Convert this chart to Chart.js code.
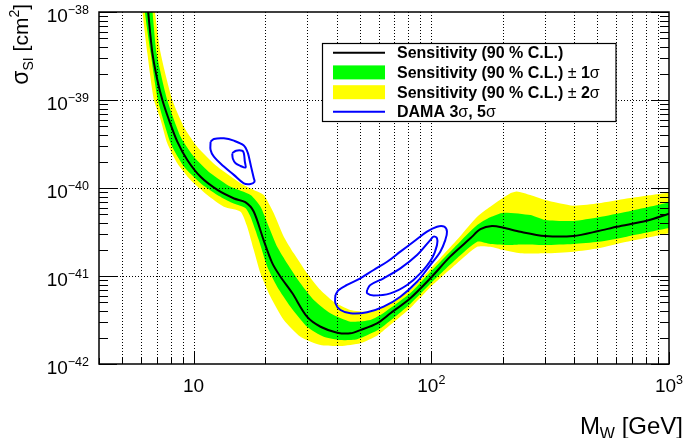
<!DOCTYPE html>
<html>
<head>
<meta charset="utf-8">
<script src="https://cdn.jsdelivr.net/npm/chart.js@4.4.1/dist/chart.umd.min.js"></script>
<style>
body { margin: 0; background: #fff; }
#wrap { width: 685px; height: 438px; position: relative; }
</style>
</head>
<body>
<div id="wrap"><canvas id="chart"></canvas></div>
<script>
// expected sensitivity (90% C.L.), mass in GeV, cross section in cm2
var sensMass = [6.2, 6.43, 6.71, 7.04, 7.39, 7.88, 8.54, 9.41, 10.7, 12.6, 14.8, 16.5, 17.9, 19.7, 21.4, 23.2, 26.0, 30.0, 34.2, 40.2, 45.7, 50.3, 59.1, 67.3, 81.6, 99, 120, 146, 161, 180, 201, 237, 301, 396, 505, 603, 806, 1000];
var sensXsec = [3e-38, 1.05e-38, 3.4e-39, 1.69e-39, 1.0e-39, 5.93e-40, 3.36e-40, 2.08e-40, 1.34e-40, 9.5e-41, 7.6e-41, 6.9e-41, 5.4e-41, 2.56e-41, 1.41e-41, 9.8e-42, 6.4e-42, 3.45e-42, 2.65e-42, 2.27e-42, 2.23e-42, 2.43e-42, 2.9e-42, 3.77e-42, 5.6e-42, 9.4e-42, 1.66e-41, 2.68e-41, 3.4e-41, 3.7e-41, 3.54e-41, 3.18e-41, 2.85e-41, 2.85e-41, 3.24e-41, 3.63e-41, 4.25e-41, 5.1e-41];

// +-1 sigma band edges
var sig1UpMass = [5.8, 6.71, 6.99, 7.75, 8.82, 10.03, 11.79, 14.31, 17.36, 19.12, 20.72, 22.47, 24.76, 28.15, 32.03, 37.63, 45.7, 55.4, 63, 81.6, 99.5, 128, 156, 177, 201, 261, 301, 396, 505, 664, 990, 1100];
var sig1UpXsec = [1e-36, 1.05e-38, 3.4e-39, 1.0e-39, 3.83e-40, 2.27e-40, 1.47e-40, 1.03e-40, 8.32e-41, 6.12e-41, 3.63e-41, 2.15e-41, 1.39e-41, 8.26e-42, 5.33e-42, 3.77e-42, 3.03e-42, 3.16e-42, 3.8e-42, 6.4e-42, 1.12e-41, 2.25e-41, 3.8e-41, 4.65e-41, 5.24e-41, 4.93e-41, 4.33e-41, 4.22e-41, 4.65e-41, 5.38e-41, 6.81e-41, 7.2e-41];
var sig1LoMass = [5.5, 6.23, 6.60, 7.08, 8.01, 9.10, 10.7, 12.58, 14.31, 16.5, 17.36, 18.81, 20.40, 22.47, 25.56, 30.04, 35.28, 41.47, 48.73, 59.1, 63, 81.6, 99.5, 128, 156, 177, 215, 237, 301, 396, 505, 664, 990, 1100];
var sig1LoXsec = [1e-36, 1.05e-38, 3.4e-39, 1.0e-39, 3.22e-40, 1.75e-40, 1.13e-40, 8.32e-41, 6.9e-41, 5.93e-41, 4.72e-41, 2.56e-41, 1.28e-41, 7.56e-42, 4.48e-42, 2.65e-42, 2.04e-42, 1.87e-42, 1.91e-42, 2.4e-42, 2.7e-42, 4.81e-42, 8.26e-42, 1.58e-41, 2.45e-41, 2.31e-41, 2.25e-41, 2.28e-41, 2.25e-41, 2.31e-41, 2.45e-41, 2.8e-41, 3.48e-41, 3.6e-41];

// +-2 sigma band edges
var sig2UpMass = [5.6, 6.86, 7.27, 8.14, 9.10, 10.36, 12.58, 15.76, 17.92, 19.74, 21.75, 23.96, 26.39, 30.04, 34.2, 38.86, 45.7, 55.4, 63, 81.6, 99.5, 128, 156, 177, 215, 229, 261, 301, 396, 505, 664, 990, 1100];
var sig2UpXsec = [1e-36, 1.05e-38, 3.4e-39, 1.0e-39, 4.98e-40, 2.95e-40, 1.75e-40, 1.13e-40, 9.49e-41, 8.32e-41, 5.15e-41, 2.8e-41, 1.81e-41, 1.07e-41, 6.93e-42, 5.1e-42, 4.11e-42, 3.93e-42, 4.48e-42, 6.93e-42, 1.22e-41, 2.56e-41, 4.72e-41, 6.12e-41, 8.7e-41, 9.1e-41, 8.3e-41, 7.31e-41, 6.3e-41, 6.7e-41, 7.6e-41, 8.85e-41, 9.2e-41];
var sig2LoMass = [5.4, 6.09, 6.39, 6.81, 7.27, 7.75, 8.54, 9.71, 11.42, 13.41, 15.76, 16.81, 17.92, 19.12, 21.06, 23.96, 28.15, 34.2, 41.47, 50.3, 59.1, 63, 81.6, 99.5, 128, 156, 177, 201, 237, 301, 396, 505, 664, 990, 1100];
var sig2LoXsec = [1e-36, 1.05e-38, 3.4e-39, 1.0e-39, 5.93e-40, 3.22e-40, 1.91e-40, 1.23e-40, 8.32e-41, 6.12e-41, 5.38e-41, 3.63e-41, 1.97e-41, 1.07e-41, 5.82e-42, 3.16e-42, 2.04e-42, 1.64e-42, 1.6e-42, 1.72e-42, 2.1e-42, 2.4e-42, 4.33e-42, 7.56e-42, 1.39e-41, 2.15e-41, 2.15e-41, 1.97e-41, 1.81e-41, 1.81e-41, 1.89e-41, 2.07e-41, 2.45e-41, 3.05e-41, 3.2e-41];

// DAMA allowed regions (closed contours)
var damaLowOutMass = [11.79, 12.17, 13.41, 14.77, 16.27, 16.86, 17.08, 17.45, 17.92, 18.04, 17.36, 16.27, 14.77, 13.41, 12.17, 11.79];
var damaLowOutXsec = [3.36e-40, 3.61e-40, 3.67e-40, 3.45e-40, 3.04e-40, 2.56e-40, 2.27e-40, 1.75e-40, 1.29e-40, 1.18e-40, 1.11e-40, 1.13e-40, 1.41e-40, 1.75e-40, 2.27e-40, 2.7e-40];
var damaLowInMass = [14.54, 15.09, 16.02, 16.27, 16.43, 16.54, 15.76, 15.02, 14.63];
var damaLowInXsec = [2.48e-40, 2.65e-40, 2.65e-40, 2.48e-40, 1.99e-40, 1.71e-40, 1.78e-40, 1.91e-40, 2.15e-40];
var damaHighOutMass = [39.5, 40.8, 44.2, 50.3, 57.2, 65.2, 74.1, 84.2, 95.9, 105.7, 113.4, 116.4, 114.5, 109.1, 99.0, 87.1, 74.1, 63.0, 53.7, 45.7, 41.5, 39.5];
var damaHighOutXsec = [6.08e-42, 6.93e-42, 7.91e-42, 9.42e-42, 1.17e-41, 1.45e-41, 1.89e-41, 2.45e-41, 3.19e-41, 3.63e-41, 3.63e-41, 3.19e-41, 2.56e-41, 1.89e-41, 1.33e-41, 8.6e-42, 5.82e-42, 4.48e-42, 3.87e-42, 3.77e-42, 4.11e-42, 4.9e-42];
var damaHighInMass = [53.7, 55.4, 63.0, 74.1, 87.1, 99.0, 102.2, 105.7, 105.7, 100.7, 89.9, 79.1, 67.3, 57.2, 53.7];
var damaHighInXsec = [6.93e-42, 7.91e-42, 9.42e-42, 1.22e-41, 1.73e-41, 2.56e-41, 2.8e-41, 2.68e-41, 2.25e-41, 1.59e-41, 1.07e-41, 7.91e-42, 6.35e-42, 6.0e-42, 6.35e-42];

// axes
var xMin = 4, xMax = 1000;
var yMin = 1e-42, yMax = 1e-38;
var xLabelVals = [10, 100, 1000];
var xLabelExp = ['', '2', '3'];
var yLabelExp = [-42, -41, -40, -39, -38];
var legendLabels = ['Sensitivity (90 % C.L.)', 'Sensitivity (90 % C.L.) \u00b1 1\u03c3', 'Sensitivity (90 % C.L.) \u00b1 2\u03c3', 'DAMA 3\u03c3, 5\u03c3'];

var FONT = '"Liberation Sans", Arial, Helvetica, sans-serif';

function pts(m, s) {
    var out = [];
    for (var i = 0; i < m.length; i++) out.push({x: m[i], y: s[i]});
    return out;
}
function loop(m, s) {
    var p = pts(m, s);
    p.push({x: m[0], y: s[0]});
    return p;
}

function damaSet(m, s) {
    return { data: loop(m, s), borderColor: '#0000ff', borderWidth: 2, tension: 0.35, fill: false, pointRadius: 0, clip: 0 };
}
function edgeSet(m, s, color, fill) {
    return { data: pts(m, s), borderColor: 'rgba(0,0,0,0)', borderWidth: 0, backgroundColor: color, fill: fill, tension: 0.2, pointRadius: 0, clip: 0 };
}

// ticks in the minor positions of every decade
function decadeTicks(lo, hi) {
    var t = [];
    for (var d = Math.floor(Math.log10(lo)); d <= Math.ceil(Math.log10(hi)); d++) {
        for (var k = 1; k < 10; k++) {
            var v = k * Math.pow(10, d);
            if (v >= lo * 0.999 && v <= hi * 1.001) t.push({v: v, major: k == 1});
        }
    }
    return t;
}

function drawGrid(chart) {
    var ctx = chart.ctx, a = chart.chartArea, xs = chart.scales.x, ys = chart.scales.y;
    ctx.save();
    ctx.strokeStyle = '#000';
    ctx.lineWidth = 1;
    ctx.setLineDash([1, 2]);
    ctx.beginPath();
    decadeTicks(xMin, xMax).forEach(function(t) {
        var px = Math.round(xs.getPixelForValue(t.v)) + 0.5;
        if (px <= a.left + 2 || px >= a.right - 2) return;
        ctx.moveTo(px, a.top); ctx.lineTo(px, a.bottom);
    });
    yLabelExp.forEach(function(e) {
        var py = Math.round(ys.getPixelForValue(Math.pow(10, e))) + 0.5;
        if (py <= a.top + 2 || py >= a.bottom - 2) return;
        ctx.moveTo(a.left, py); ctx.lineTo(a.right, py);
    });
    ctx.stroke();
    ctx.restore();
}

function runs(ctx, x, y, parts) {
    // parts: [text, size, dy, bold]
    var w = 0;
    parts.forEach(function(p) {
        ctx.font = (p[3] ? 'bold ' : '') + p[1] + 'px ' + FONT;
        ctx.fillText(p[0], x + w, y + p[2]);
        w += ctx.measureText(p[0]).width;
    });
    return w;
}
function runsWidth(ctx, parts) {
    var w = 0;
    parts.forEach(function(p) {
        ctx.font = (p[3] ? 'bold ' : '') + p[1] + 'px ' + FONT;
        w += ctx.measureText(p[0]).width;
    });
    return w;
}

function drawAxes(chart) {
    var ctx = chart.ctx, a = chart.chartArea, xs = chart.scales.x, ys = chart.scales.y;
    ctx.save();
    ctx.strokeStyle = '#000';
    ctx.fillStyle = '#000';
    ctx.lineWidth = 1;
    ctx.beginPath();
    decadeTicks(yMin, yMax).forEach(function(t) {
        var py = Math.round(ys.getPixelForValue(t.v)) + 0.5;
        var len = t.major ? 18 : 9;
        ctx.moveTo(a.left, py); ctx.lineTo(a.left + len, py);
        ctx.moveTo(a.right, py); ctx.lineTo(a.right - len, py);
    });
    decadeTicks(xMin, xMax).forEach(function(t) {
        var px = Math.round(xs.getPixelForValue(t.v)) + 0.5;
        var len = t.major ? 12 : 6;
        ctx.moveTo(px, a.bottom); ctx.lineTo(px, a.bottom - len);
    });
    ctx.stroke();
    ctx.lineWidth = 1.5;
    ctx.strokeRect(a.left, a.top, a.right - a.left, a.bottom - a.top);

    ctx.textBaseline = 'alphabetic';
    ctx.textAlign = 'left';
    // y tick labels
    yLabelExp.forEach(function(e) {
        var py = ys.getPixelForValue(Math.pow(10, e));
        var parts = [['10', 19, 0, false], ['\u2212' + Math.abs(e), 12.5, -8.5, false]];
        var w = runsWidth(ctx, parts);
        runs(ctx, a.left - 10 - w, py + 10, parts);
    });
    // x tick labels
    xLabelVals.forEach(function(v, i) {
        var px = xs.getPixelForValue(v);
        var parts = [['10', 19, 0, false]];
        if (xLabelExp[i]) parts.push([xLabelExp[i], 12.5, -8.5, false]);
        var w = runsWidth(ctx, parts);
        runs(ctx, px - w / 2, 392, parts);
    });
    // x title
    var xt = [['M', 24, 0, false], ['W', 16, 5, false], [' [GeV]', 24, 0, false]];
    runs(ctx, 683 - runsWidth(ctx, xt), 434, xt);
    // y title, rotated
    var yt = [['\u03c3', 23, 0, false], ['SI', 14, 5, false], [' [cm', 21, 0, false], ['2', 14, -9, false], [']', 21, 0, false]];
    ctx.save();
    ctx.translate(28, 4);
    ctx.rotate(-Math.PI / 2);
    runs(ctx, -runsWidth(ctx, yt), 0, yt);
    ctx.restore();
    ctx.restore();
}

function labelParts(txt) {
    // symbols in regular weight, the rest bold
    var parts = [], cur = '', curBold = null;
    for (var i = 0; i < txt.length; i++) {
        var ch = txt[i];
        var b = !(ch == '\u00b1' || ch == '\u03c3');
        if (curBold !== null && b !== curBold) { parts.push([cur, 16, 0, curBold]); cur = ''; }
        cur += ch; curBold = b;
    }
    parts.push([cur, 16, 0, curBold]);
    return parts;
}

function drawLegend(chart) {
    var ctx = chart.ctx;
    var bx = 322.5, by = 43.5, bw = 293.5, bh = 78;
    ctx.save();
    ctx.fillStyle = '#fff';
    ctx.fillRect(bx, by, bw, bh);
    ctx.strokeStyle = '#000';
    ctx.lineWidth = 1.2;
    ctx.strokeRect(bx, by, bw, bh);
    var rowY = [52.7, 72.4, 92.2, 111.8];
    // symbols
    ctx.lineWidth = 2;
    ctx.strokeStyle = '#000';
    ctx.beginPath(); ctx.moveTo(333, rowY[0]); ctx.lineTo(385, rowY[0]); ctx.stroke();
    ctx.fillStyle = '#00ff00';
    ctx.fillRect(333, rowY[1] - 7, 52, 14);
    ctx.fillStyle = '#ffff00';
    ctx.fillRect(333, rowY[2] - 7, 52, 14);
    ctx.strokeStyle = '#0000ff';
    ctx.beginPath(); ctx.moveTo(333, rowY[3]); ctx.lineTo(385, rowY[3]); ctx.stroke();
    ctx.fillStyle = '#000';
    ctx.textBaseline = 'middle';
    ctx.textAlign = 'left';
    legendLabels.forEach(function(l, i) {
        runs(ctx, 397, rowY[i] + 1, labelParts(l));
    });
    ctx.restore();
}

var rootFrame = {
    id: 'rootFrame',
    afterDatasetDraw: function(chart, args) {
        // grid goes over the bands, under the curves
        if (args.index === 5) drawGrid(chart);
    },
    afterDraw: function(chart) {
        drawAxes(chart);
        drawLegend(chart);
    }
};

new Chart(document.getElementById('chart'), {
    type: 'line',
    data: {
        datasets: [
            damaSet(damaLowOutMass, damaLowOutXsec),
            damaSet(damaLowInMass, damaLowInXsec),
            damaSet(damaHighOutMass, damaHighOutXsec),
            damaSet(damaHighInMass, damaHighInXsec),
            { data: pts(sensMass, sensXsec), borderColor: '#000', borderWidth: 2, tension: 0.3, fill: false, pointRadius: 0, clip: 0 },
            edgeSet(sig1UpMass, sig1UpXsec, '#00ff00', '+1'),
            edgeSet(sig1LoMass, sig1LoXsec, '#00ff00', false),
            edgeSet(sig2UpMass, sig2UpXsec, '#ffff00', '+1'),
            edgeSet(sig2LoMass, sig2LoXsec, '#ffff00', false)
        ]
    },
    options: {
        responsive: true,
        maintainAspectRatio: false,
        animation: false,
        layout: { padding: { left: 99, right: 16, top: 12, bottom: 74 } },
        scales: {
            x: { type: 'logarithmic', min: xMin, max: xMax, display: false },
            y: { type: 'logarithmic', min: yMin, max: yMax, display: false }
        },
        plugins: { legend: { display: false }, tooltip: { enabled: false } },
        elements: { point: { radius: 0 } }
    },
    plugins: [rootFrame]
});
</script>
</body>
</html>
